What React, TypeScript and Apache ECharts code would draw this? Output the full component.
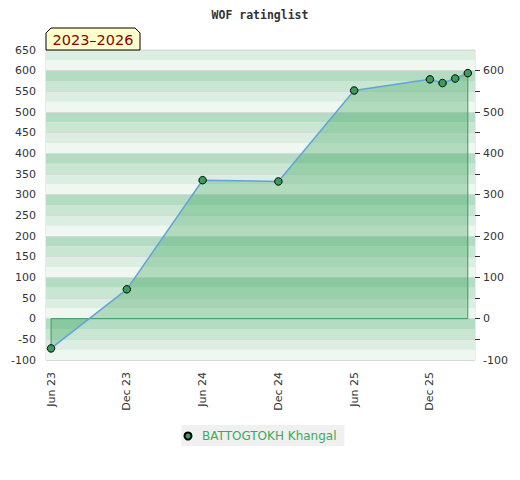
import React, { useEffect, useRef } from "react";
import * as echarts from "echarts";

const monthIndex = [0, 6, 12, 18, 24, 30, 31, 32, 33];
const ratings = [-72, 71, 335, 332, 552, 579, 570, 581, 594];
const tickMonths = [0, 6, 12, 18, 24, 30];
const tickLabels = ["Jun 23", "Dec 23", "Jun 24", "Dec 24", "Jun 25", "Dec 25"];
const rightTicks = [-50, 0, 50, 100, 150, 200, 250, 300, 350, 400, 450, 500, 550, 600];
const playerName = "BATTOGTOKH Khangal";
const periodLabel = "2023–2026";
const chartTitle = "WOF ratinglist";

export default function App() {
  const ref = useRef<HTMLDivElement>(null);
  useEffect(() => {
    document.body.style.margin = "0";
    if (!ref.current) return;
    const chart = echarts.init(ref.current, null, { renderer: "svg" });
    const points = monthIndex.map((m, i) => [m, ratings[i]]);
    const first = points[0];
    const last = points[points.length - 1];
    const outline = [
      [first[0], first[1]],
      [first[0], 0],
      [last[0], 0],
      [last[0], last[1]],
    ];
    const font = "DejaVu Sans";
    chart.setOption({
      animation: false,
      title: {
        text: chartTitle,
        left: "center",
        top: 4,
        textStyle: {
          fontFamily: "DejaVu Sans Mono",
          fontWeight: "bold",
          fontSize: 11.5,
          color: "#333",
        },
      },
      grid: {
        left: 46,
        right: 45,
        top: 50,
        bottom: 120,
        containLabel: false,
        outerBoundsMode: "none",
        show: true,
        borderColor: "#d6d6d6",
        borderWidth: 1,
        backgroundColor: "transparent",
      },
      legend: {
        bottom: 34,
        left: "center",
        backgroundColor: "#f0f0f0",
        padding: [5, 8, 4, 2],
        icon: "circle",
        itemWidth: 18,
        itemHeight: 7,
        data: [playerName],
        textStyle: { color: "#3aaa5e", fontSize: 12, fontFamily: font },
      },
      xAxis: {
        type: "value",
        min: -0.4,
        max: 33.57,
        axisLine: { show: false },
        axisTick: { show: false },
        splitLine: { show: false },
        axisLabel: {
          customValues: tickMonths,
          formatter: (v: number) => {
            const i = tickMonths.indexOf(Math.round(v));
            return i >= 0 ? tickLabels[i] : "";
          },
          rotate: 90,
          margin: 12,
          color: "#333",
          fontSize: 11,
          fontFamily: font,
        },
      },
      yAxis: [
        {
          type: "value",
          min: -100,
          max: 650,
          interval: 25,
          position: "left",
          axisLine: { show: false },
          axisTick: { show: false },
          axisLabel: { show: false },
          splitLine: { show: false },
          splitArea: {
            show: true,
            areaStyle: { color: ["#eff7f1", "#dcede2", "#c8e6d2", "#b3dcc3"] },
          },
        },
        {
          type: "value",
          min: -100,
          max: 650,
          interval: 50,
          position: "left",
          axisLine: { show: false },
          axisTick: { show: false },
          axisLabel: { color: "#333", fontSize: 11, margin: 10, fontFamily: font },
          splitLine: { show: true, lineStyle: { color: "#d9d9d9", width: 1 } },
        },
        {
          type: "value",
          min: -100,
          max: 650,
          interval: 50,
          position: "right",
          axisLine: { show: false },
          axisTick: {
            show: true,
            length: 5,
            customValues: rightTicks,
            lineStyle: { color: "#333" },
          },
          splitLine: { show: false },
          axisLabel: {
            color: "#333",
            fontSize: 11,
            margin: 8,
            fontFamily: font,
            formatter: (v: number) => (v % 100 === 0 && v <= 600 ? String(v) : ""),
          },
        },
      ],
      series: [
        {
          name: "outline",
          type: "line",
          yAxisIndex: 1,
          data: outline,
          symbol: "none",
          silent: true,
          lineStyle: { color: "#3a9a5a", width: 1 },
          z: 2,
        },
        {
          name: playerName,
          type: "line",
          yAxisIndex: 1,
          data: points,
          symbol: "circle",
          symbolSize: 7.5,
          lineStyle: { color: "#62a3d9", width: 1.5 },
          itemStyle: { color: "#3a9d5d", borderColor: "#000", borderWidth: 1 },
          areaStyle: { color: "rgba(55,165,89,0.47)", origin: 0 },
          z: 3,
        },
      ],
      graphic: [
        {
          type: "polygon",
          shape: {
            points: [
              [46, 50],
              [46, 33],
              [51, 28],
              [135, 28],
              [140, 33],
              [140, 50],
            ],
          },
          style: { fill: "#ffffcc", stroke: "#000", lineWidth: 1 },
          z: 10,
        },
        {
          type: "text",
          x: 93,
          y: 40,
          style: {
            text: periodLabel,
            fill: "#8b0000",
            font: "14.5px 'DejaVu Sans'",
            textAlign: "center",
            textVerticalAlign: "middle",
          },
          z: 11,
        },
      ],
    });
    return () => chart.dispose();
  }, []);
  return <div ref={ref} style={{ width: 520, height: 480 }} />;
}
